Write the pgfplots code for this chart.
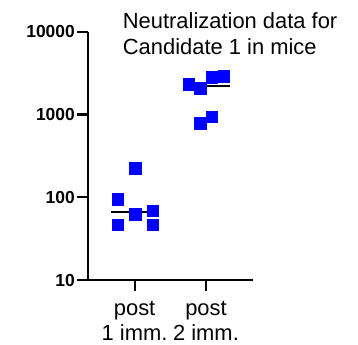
\documentclass[border=0pt]{standalone}
\usepackage{pgfplots}
\pgfplotsset{compat=1.18}
\usepackage{fontspec}
\setmainfont{Liberation Sans}
\begin{document}
\begin{tikzpicture}
\useasboundingbox (0,0) rectangle (358bp,345bp);
\begin{axis}[
  at={(88bp,65bp)}, anchor=south west,
  scale only axis, width=164.6bp, height=248.3bp,
  ymode=log, ymin=10, ymax=10000,
  xmin=0.347, xmax=2.653,
  axis lines=left,
  axis line style={-, line width=2.2bp, black},
  xtick={1,2}, ytick={10,100,1000,10000},
  yticklabels={10,100,1000,10000},
  xticklabels={{post\\1 imm.},{post\\2 imm.}},
  yminorticks=false, xminorticks=false,
  tick align=outside,
  major tick length=11bp,
  tick style={line width=2.2bp, black},
  yticklabel style={font=\bfseries\fontsize{17.5}{20}\selectfont, inner sep=2bp},
  xticklabel style={font=\fontsize{22}{25}\selectfont, align=center, inner sep=2bp, yshift=-8bp},
  clip=false,
]
\addplot[black, line width=2bp] coordinates {(0.674,65.9) (1.336,65.9)};
\addplot[black, line width=2bp] coordinates {(1.70,2223) (2.33,2223)};
\addplot[only marks, mark=square*, mark size=5.8bp, mark options={draw=blue, fill=blue, line width=0.3bp}] coordinates {
(0.765,94.8) (0.765,46.7) (1.006,226) (1.006,62.8) (1.252,68.9) (1.252,46.7)
};
\addplot[only marks, mark=square*, mark size=5.8bp, mark options={draw=blue, fill=blue, line width=0.3bp}] coordinates {
(1.756,2334) (1.917,2071) (2.081,2813) (2.245,2897) (1.917,782) (2.081,942)
};
\end{axis}
\node[anchor=base west, align=left, font=\fontsize{22}{26}\selectfont, inner sep=0pt] at (122.7bp,290.7bp) {Neutralization data for\\Candidate 1 in mice};
\end{tikzpicture}
\end{document}
